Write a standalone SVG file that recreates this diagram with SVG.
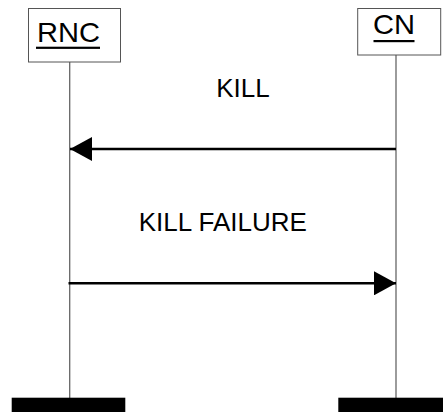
<svg xmlns="http://www.w3.org/2000/svg" width="443" height="412" viewBox="0 0 443 412">
<style>
.box{fill:#fff;stroke:#555;stroke-width:1}
.life{stroke:#666;stroke-width:1.3;fill:none}
.msg{stroke:#000;stroke-width:2.5;fill:none}
.lbl{font-family:"Liberation Sans",Arial,sans-serif;font-size:26px;fill:#000}
.nm{font-family:"Liberation Sans",Arial,sans-serif;font-size:28px;fill:#000}
.bar{fill:#000}
</style>
<defs>
<marker id="ah" markerWidth="22" markerHeight="24" refX="22" refY="12" orient="auto" markerUnits="userSpaceOnUse">
<path d="M0,0 L22,12 L0,24 Z" fill="#000"/>
</marker>
</defs>
<g id="lifelines">
<line class="life" x1="69.7" y1="62" x2="69.7" y2="398"/>
<line class="life" x1="396" y1="55" x2="396" y2="398"/>
</g>
<g id="RNC">
<rect class="box" x="28.5" y="8.5" width="92" height="53.5"/>
<text class="nm" x="37" y="42.3" textLength="63" lengthAdjust="spacingAndGlyphs">RNC</text>
<rect x="36" y="46.7" width="64" height="2.2" fill="#000"/>
<rect class="bar" x="11.7" y="397.7" width="113.6" height="14.3"/>
</g>
<g id="CN">
<rect class="box" x="357.7" y="8.5" width="83" height="46.5"/>
<text class="nm" x="373" y="34.3" textLength="42" lengthAdjust="spacingAndGlyphs">CN</text>
<rect x="373.5" y="40" width="41" height="2.2" fill="#000"/>
<rect class="bar" x="338.3" y="397.7" width="104.7" height="14.3"/>
</g>
<g id="connectors">
<line class="msg" x1="396" y1="149" x2="70" y2="149" marker-end="url(#ah)"/>
<text class="lbl" x="243" y="96.7" text-anchor="middle">KILL</text>
<line class="msg" x1="68.5" y1="283.3" x2="396" y2="283.3" marker-end="url(#ah)"/>
<text class="lbl" x="222.8" y="230.7" text-anchor="middle">KILL FAILURE</text>
</g>
</svg>
